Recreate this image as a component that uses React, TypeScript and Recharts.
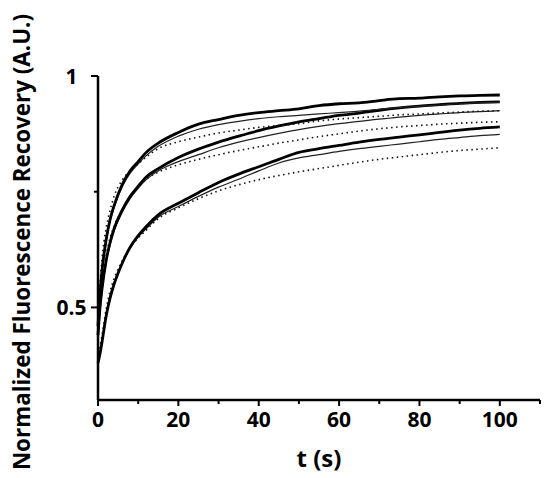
import React from 'react';
import { LineChart, Line, XAxis, YAxis } from 'recharts';

// time points (s)
const times = [0, 0.5, 1, 2, 3, 4, 6, 8, 10, 12, 15, 20, 25, 30, 35, 40, 45, 50, 55, 60, 65, 70, 75, 80, 85, 90, 95, 100];

// top group
const topThick = [0.46, 0.53, 0.58, 0.645, 0.69, 0.72, 0.765, 0.795, 0.815, 0.835, 0.855, 0.878, 0.896, 0.906, 0.915, 0.921, 0.925, 0.929, 0.936, 0.94, 0.942, 0.947, 0.951, 0.952, 0.955, 0.957, 0.958, 0.959];
const topThin = [0.45, 0.52, 0.575, 0.64, 0.685, 0.715, 0.76, 0.79, 0.81, 0.828, 0.848, 0.87, 0.885, 0.895, 0.902, 0.908, 0.912, 0.915, 0.918, 0.921, 0.924, 0.928, 0.932, 0.935, 0.937, 0.94, 0.942, 0.943];
const topDotted = [0.47, 0.55, 0.605, 0.67, 0.71, 0.74, 0.775, 0.795, 0.81, 0.825, 0.843, 0.858, 0.868, 0.877, 0.883, 0.889, 0.893, 0.897, 0.903, 0.907, 0.91, 0.913, 0.916, 0.918, 0.92, 0.922, 0.924, 0.925];

// middle group
const midThick = [0.44, 0.5, 0.54, 0.6, 0.64, 0.67, 0.71, 0.74, 0.762, 0.782, 0.8, 0.824, 0.842, 0.857, 0.87, 0.882, 0.892, 0.901, 0.908, 0.915, 0.92, 0.926, 0.931, 0.935, 0.938, 0.941, 0.943, 0.944];
const midThin = [0.43, 0.49, 0.535, 0.595, 0.635, 0.665, 0.705, 0.735, 0.757, 0.776, 0.795, 0.815, 0.83, 0.845, 0.857, 0.867, 0.876, 0.884, 0.891, 0.897, 0.902, 0.907, 0.911, 0.915, 0.918, 0.921, 0.923, 0.925];
const midDotted = [0.45, 0.51, 0.55, 0.61, 0.65, 0.675, 0.71, 0.74, 0.76, 0.777, 0.792, 0.808, 0.82, 0.83, 0.839, 0.847, 0.855, 0.862, 0.869, 0.875, 0.881, 0.886, 0.89, 0.893, 0.896, 0.898, 0.9, 0.901];

// bottom group
const lowThick = [0.38, 0.4, 0.425, 0.48, 0.52, 0.55, 0.595, 0.63, 0.655, 0.675, 0.7, 0.725, 0.748, 0.77, 0.788, 0.804, 0.82, 0.835, 0.843, 0.85, 0.857, 0.863, 0.868, 0.873, 0.878, 0.883, 0.887, 0.89];
const lowThin = [0.385, 0.405, 0.43, 0.485, 0.525, 0.553, 0.595, 0.628, 0.652, 0.67, 0.695, 0.718, 0.74, 0.76, 0.777, 0.795, 0.812, 0.823, 0.83, 0.837, 0.843, 0.848, 0.853, 0.858, 0.863, 0.867, 0.871, 0.874];
const lowDotted = [0.39, 0.415, 0.44, 0.495, 0.535, 0.562, 0.6, 0.63, 0.65, 0.667, 0.692, 0.715, 0.735, 0.752, 0.765, 0.776, 0.785, 0.793, 0.8, 0.807, 0.814, 0.82, 0.825, 0.83, 0.835, 0.839, 0.842, 0.845];

const xTicks = [0, 10, 20, 30, 40, 50, 60, 70, 80, 90, 100, 110];
const xLabels = [0, 20, 40, 60, 80, 100];
const yTicks = [0.5, 0.75, 1];
const yLabels = [0.5, 1];

const data = times.map((t, i) => ({
  t,
  topThick: topThick[i],
  topThin: topThin[i],
  topDotted: topDotted[i],
  midThick: midThick[i],
  midThin: midThin[i],
  midDotted: midDotted[i],
  lowThick: lowThick[i],
  lowThin: lowThin[i],
  lowDotted: lowDotted[i],
}));

const FONT = '"Open Sans", sans-serif';

const XTick = (props: any) => {
  const { x, y, payload } = props;
  const major = xLabels.includes(payload.value);
  return (
    <g>
      <line x1={x} x2={x} y1={y} y2={y + (major ? 6 : 4)} stroke="#000" strokeWidth={2} />
      {major && (
        <text x={x} y={y + 27} textAnchor="middle" fontFamily={FONT} fontWeight={700} fontSize={21} fill="#000">
          {payload.value}
        </text>
      )}
    </g>
  );
};

// y labels are centred in a column left of the axis
const YTick = (props: any) => {
  const { x, y, payload } = props;
  const major = yLabels.includes(payload.value);
  return (
    <g>
      <line x1={x} x2={x - (major ? 7 : 4)} y1={y} y2={y} stroke="#000" strokeWidth={2} />
      {major && (
        <text x={x - 26.5} y={y + 7.5} textAnchor="middle" fontFamily={FONT} fontWeight={700} fontSize={21} fill="#000">
          {payload.value}
        </text>
      )}
    </g>
  );
};

const thick = { stroke: '#000', strokeWidth: 2.8 };
const thin = { stroke: '#222', strokeWidth: 1.2 };
const dotted = { stroke: '#111', strokeWidth: 1.6, strokeDasharray: '1.5 3.5' };

export default function App() {
  return (
    <div style={{ position: 'absolute', left: 0, top: 0, background: '#fff' }}>
      <LineChart width={550} height={478} data={data} margin={{ top: 76, right: 10, bottom: 0, left: 0 }}>
        <XAxis
          dataKey="t"
          type="number"
          domain={[0, 110]}
          ticks={xTicks}
          interval={0}
          height={78}
          tickSize={0}
          tickMargin={0}
          tickLine={false}
          tick={<XTick />}
          axisLine={{ stroke: '#000', strokeWidth: 2.5 }}
          label={{ value: 't (s)', position: 'insideBottom', offset: 11, style: { fontFamily: FONT, fontWeight: 700, fontSize: 24, fill: '#000' } }}
        />
        <YAxis
          type="number"
          domain={[0.3, 1]}
          ticks={yTicks}
          interval={0}
          width={98}
          tickSize={0}
          tickMargin={0}
          tickLine={false}
          tick={<YTick />}
          axisLine={{ stroke: '#000', strokeWidth: 2.5 }}
          allowDataOverflow
        />
        <Line type="monotone" dataKey="lowDotted" dot={false} isAnimationActive={false} {...dotted} />
        <Line type="monotone" dataKey="lowThin" dot={false} isAnimationActive={false} {...thin} />
        <Line type="monotone" dataKey="lowThick" dot={false} isAnimationActive={false} {...thick} />
        <Line type="monotone" dataKey="midDotted" dot={false} isAnimationActive={false} {...dotted} />
        <Line type="monotone" dataKey="midThin" dot={false} isAnimationActive={false} {...thin} />
        <Line type="monotone" dataKey="midThick" dot={false} isAnimationActive={false} {...thick} />
        <Line type="monotone" dataKey="topDotted" dot={false} isAnimationActive={false} {...dotted} />
        <Line type="monotone" dataKey="topThin" dot={false} isAnimationActive={false} {...thin} />
        <Line type="monotone" dataKey="topThick" dot={false} isAnimationActive={false} {...thick} />
        <text
          x={21}
          y={242}
          transform="rotate(-90 21 242)"
          textAnchor="middle"
          dominantBaseline="central"
          fontFamily={FONT}
          fontWeight={700}
          fontSize={22.4}
          fill="#000"
        >
          Normalized Fluorescence Recovery (A.U.)
        </text>
      </LineChart>
    </div>
  );
}
